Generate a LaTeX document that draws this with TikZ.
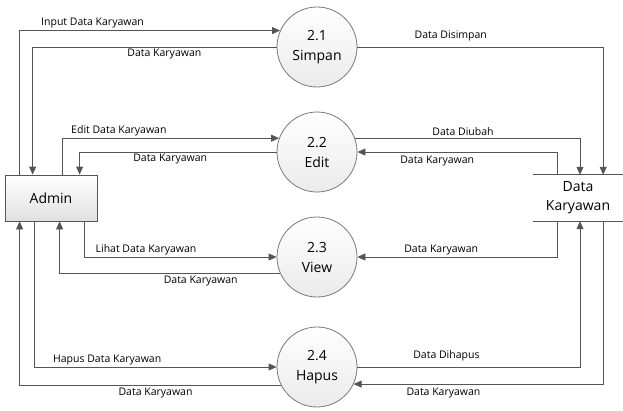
\documentclass[tikz,border=0pt]{standalone}
\usepackage{fontspec}
\setmainfont{Open Sans}
\usetikzlibrary{arrows.meta}
\definecolor{linegray}{HTML}{555555}
\definecolor{edgegray}{HTML}{7A7A7A}

\begin{document}
\begin{tikzpicture}[x=1pt, y=-1pt,
    proc/.style={circle, draw=edgegray, line width=0.8pt, minimum size=80pt, inner sep=0pt,
        top color=white, bottom color=black!8, align=center, font=\fontsize{14}{20}\selectfont},
    entity/.style={rectangle, draw=linegray, line width=0.8pt, minimum width=92pt, minimum height=46pt,
        top color=white, bottom color=black!12, font=\fontsize{14}{18}\selectfont},
    store/.style={minimum width=90pt, minimum height=46pt, inner sep=0pt, align=center,
        font=\fontsize{14}{19}\selectfont},
    flow/.style={draw=linegray, line width=0.8pt, -{Triangle[length=8pt, width=7pt]}},
    lbl/.style={font=\fontsize{10.5}{12}\selectfont, inner sep=2pt}]
    \useasboundingbox (0,0) rectangle (623,410);

    \node[entity] (admin) at (51,198) {Admin};
    \node[proc] (p21) at (317,47) {2.1\\Simpan};
    \node[proc] (p22) at (317,152) {2.2\\Edit};
    \node[proc] (p23) at (317,257) {2.3\\View};
    \node[proc] (p24) at (317,367) {2.4\\Hapus};
    \node[store] (store) at (578,198) {Data\\Karyawan};
    \draw[linegray, line width=0.8pt] (store.north west) -- (store.north east)
        (store.south west) -- (store.south east);

    % admin <-> proses
    \draw[flow] ([xshift=15pt]admin.north west) |- (p21.156) node[lbl, above, pos=0.64] {Input Data Karyawan};
    \draw[flow] (p21.west) -| ([xshift=28pt]admin.north west) node[lbl, below, pos=0.23] {Data Karyawan};
    \draw[flow] ([xshift=58pt]admin.north west) |- (p22.160) node[lbl, above, pos=0.63] {Edit Data Karyawan};
    \draw[flow] (p22.west) -| ([xshift=75pt]admin.north west) node[lbl, below, pos=0.27] {Data Karyawan};
    \draw[flow] ([xshift=80pt]admin.south west) |- (p23.west) node[lbl, above, pos=0.66] {Lihat Data Karyawan};
    \draw[flow] (p23.204) -| ([xshift=55pt]admin.south west) node[lbl, below, pos=0.18] {Data Karyawan};
    \draw[flow] ([xshift=30pt]admin.south west) |- (p24.west) node[lbl, above, pos=0.65] {Hapus Data Karyawan};
    \draw[flow] (p24.207) -| ([xshift=15pt]admin.south west) node[lbl, below, pos=0.24] {Data Karyawan};

    % proses <-> data store
    \draw[flow] (p21.east) -| ([xshift=-20pt]store.north east) node[lbl, above, pos=0.19, yshift=4pt] {Data Disimpan};
    \draw[flow] (p22.20) -| ([xshift=2pt]store.north) node[lbl, above, pos=0.24] {Data Diubah};
    \draw[flow] ([xshift=-21pt]store.north) |- (p22.east) node[lbl, below, pos=0.8, yshift=-2pt] {Data Karyawan};
    \draw[flow] ([xshift=-21pt]store.south) |- (p23.east) node[lbl, above, pos=0.79] {Data Karyawan};
    \draw[flow] (p24.east) -| ([xshift=2pt]store.south) node[lbl, above, pos=0.2, yshift=4pt] {Data Dihapus};
    \draw[flow] ([xshift=-20pt]store.south east) |- (p24.335) node[lbl, below, pos=0.82, yshift=-2pt] {Data Karyawan};
\end{tikzpicture}
\end{document}
